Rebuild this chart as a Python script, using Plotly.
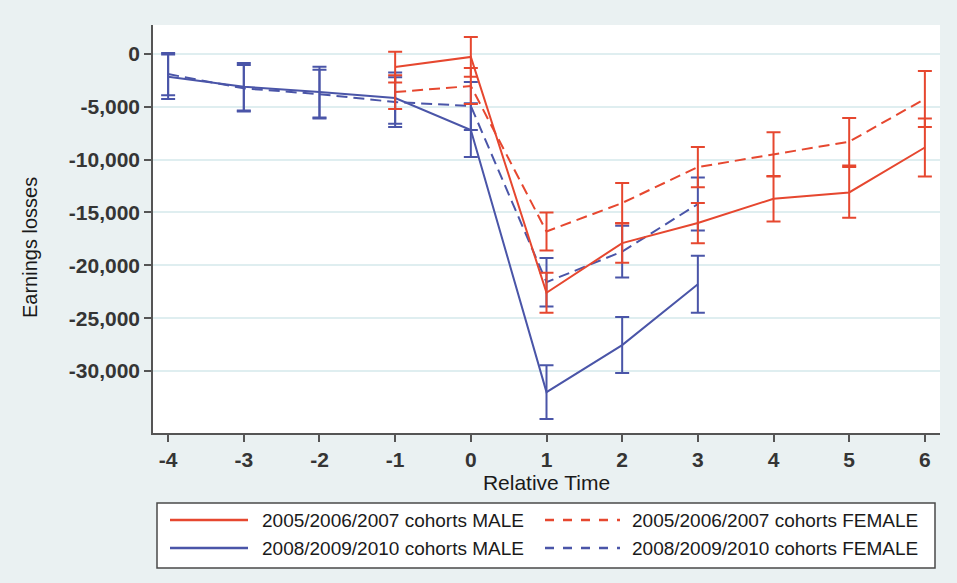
import plotly.graph_objects as go

# Relative time (years around job loss)
t_blue = [-4, -3, -2, -1, 0, 1, 2, 3]
t_red = [-1, 0, 1, 2, 3, 4, 5, 6]

# 2008/2009/2010 cohorts
blue_male = [-2150, -3100, -3600, -4170, -7200, -32000, -27550, -21800]
blue_male_ci = [2100, 2250, 2400, 2430, 2550, 2550, 2650, 2700]
blue_female = [-1900, -3250, -3800, -4550, -4920, -21600, -18700, -14200]
blue_female_ci = [2000, 2200, 2300, 2350, 2270, 2300, 2450, 2500]

# 2005/2006/2007 cohorts
red_male = [-1240, -280, -22600, -17900, -16000, -13700, -13100, -8850]
red_male_ci = [1450, 1880, 1900, 1850, 1900, 2150, 2400, 2750]
red_female = [-3600, -3030, -16800, -14100, -10700, -9500, -8300, -4250]
red_female_ci = [1600, 1700, 1800, 1900, 1900, 2100, 2250, 2650]

x_ticks = [-4, -3, -2, -1, 0, 1, 2, 3, 4, 5, 6]
x_tick_labels = ["-4", "-3", "-2", "-1", "0", "1", "2", "3", "4", "5", "6"]
y_ticks = [0, -5000, -10000, -15000, -20000, -25000, -30000]
y_tick_labels = ["0", "-5,000", "-10,000", "-15,000", "-20,000", "-25,000", "-30,000"]

RED = "#e6472f"
BLUE = "#4a55a8"
FONT = "Liberation Sans, Arial, sans-serif"

series = [
    ("2008/2009/2010 cohorts MALE", t_blue, blue_male, blue_male_ci, BLUE, "solid"),
    ("2008/2009/2010 cohorts FEMALE", t_blue, blue_female, blue_female_ci, BLUE, "11px,6px"),
    ("2005/2006/2007 cohorts MALE", t_red, red_male, red_male_ci, RED, "solid"),
    ("2005/2006/2007 cohorts FEMALE", t_red, red_female, red_female_ci, RED, "11px,6px"),
]

fig = go.Figure()
for name, xs, ys, ci, color, dash in series:
    fig.add_trace(go.Scatter(
        x=xs, y=ys, name=name, mode="lines",
        line=dict(color=color, width=2, dash=dash),
        error_y=dict(type="data", array=ci, visible=True,
                     color=color, thickness=2, width=7),
        showlegend=False,
    ))

# Plot-area geometry in pixels, used to place the boxed legend below it
W, H = 957, 583
L, R, T, B = 153, 17, 25, 150
pw, ph = W - L - R, H - T - B


def px_x(x):
    return (x - L) / pw


def px_y(y):
    return (H - B - y) / ph


shapes = [dict(type="rect", xref="paper", yref="paper",
               x0=px_x(157), x1=px_x(935), y0=px_y(503), y1=px_y(568),
               line=dict(color="#4a4a4a", width=1.5), fillcolor="white",
               layer="above")]
annotations = [dict(xref="paper", yref="paper", x=px_x(30), y=px_y(248),
                    text="Earnings losses", textangle=-90, showarrow=False,
                    xanchor="center", yanchor="middle",
                    font=dict(family=FONT, size=20, color="#1a1a1a"))]
legend_order = [
    (series[2], 170, 248, 260, 520),
    (series[3], 545, 620, 630, 520),
    (series[0], 170, 248, 260, 548),
    (series[1], 545, 620, 630, 548),
]
for (name, _, _, _, color, dash), lx0, lx1, tx, ry in legend_order:
    shapes.append(dict(type="line", xref="paper", yref="paper",
                       x0=px_x(lx0), x1=px_x(lx1), y0=px_y(ry), y1=px_y(ry),
                       line=dict(color=color, width=2.5,
                                 dash="dash" if dash != "solid" else "solid"),
                       layer="above"))
    annotations.append(dict(xref="paper", yref="paper", x=px_x(tx), y=px_y(ry),
                            text=name, showarrow=False, xanchor="left",
                            yanchor="middle",
                            font=dict(family=FONT, size=19, color="#1a1a1a")))

tick_font = dict(family=FONT, size=21, color="#353535", weight="bold")

fig.update_layout(
    width=W, height=H,
    margin=dict(l=L, r=R, t=T, b=B),
    paper_bgcolor="#eaf1f2",
    plot_bgcolor="white",
    font=dict(family=FONT, size=18, color="#2a2a2a"),
    shapes=shapes,
    annotations=annotations,
    xaxis=dict(
        range=[-4.2, 6.2], tickvals=x_ticks, ticktext=x_tick_labels,
        showgrid=False, zeroline=False,
        showline=True, linecolor="#555", linewidth=1.5,
        ticks="outside", ticklen=7, tickcolor="#555", tickwidth=1.5,
        tickfont=tick_font,
        title=dict(text="Relative Time", font=dict(size=21, color="#1a1a1a"),
                   standoff=5),
    ),
    yaxis=dict(
        range=[-35870, 2745], tickvals=y_ticks, ticktext=y_tick_labels,
        showgrid=True, gridcolor="#dfeef0", gridwidth=1.5, zeroline=False,
        showline=True, linecolor="#555", linewidth=1.5,
        ticks="outside", ticklen=7, tickcolor="#555", tickwidth=1.5,
        tickfont=tick_font,
    ),
)

fig.write_html("out.html")
